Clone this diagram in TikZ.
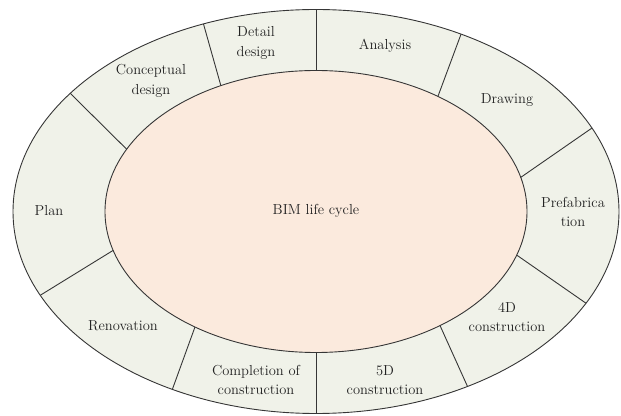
\documentclass[tikz,border=0pt]{standalone}
\usetikzlibrary{calc}
\definecolor{linec}{HTML}{363636}
\definecolor{textc}{HTML}{222222}
\definecolor{ringfill}{HTML}{F0F2E9}
\definecolor{corefill}{HTML}{FBEADD}
\begin{document}
\begin{tikzpicture}[x=1pt,y=1pt,
  ring/.style={draw=linec, line width=0.9pt},
  lbl/.style={align=center, text=textc, inner sep=0pt,
    font=\fontsize{14.5}{19.5}\selectfont}]
\useasboundingbox (0,0) rectangle (621,415);
\coordinate (C) at (316,203.5);
\path[ring, fill=ringfill] (C) ellipse [x radius=303, y radius=202];
\path[ring, fill=corefill] (C) ellipse [x radius=211, y radius=141];
\foreach \ti/\tb [count=\k] in {90/90, 54.7/61.4, 14/24.4, -18/-27, -54/-60,
    -90/-90, 235/241.7, 196/204.5, 153.8/144.2, 116.8/111.8}{
  \coordinate (in\k) at ($(C)+(\ti:211 and 141)$);
  \coordinate (out\k) at ($(C)+(\tb:303 and 202)$);
  \draw[ring] (in\k) -- (out\k);
}
\node[lbl] (core) at (316,204) {BIM life cycle};
\node[lbl] (detail) at (256,372) {Detail\\design};
\node[lbl] (concept) at (151,334) {Conceptual\\design};
\node[lbl] (analysis) at (385,369) {Analysis};
\node[lbl] (drawing) at (507,315) {Drawing};
\node[lbl] (prefab) at (573,203) {Prefabrica\\tion};
\node[lbl] (plan) at (49,204) {Plan};
\node[lbl] (renov) at (123,89) {Renovation};
\node[lbl] (complete) at (256,35) {Completion of\\construction};
\node[lbl] (fived) at (385,35) {5D\\construction};
\node[lbl] (fourd) at (507,98) {4D\\construction};
\end{tikzpicture}
\end{document}
